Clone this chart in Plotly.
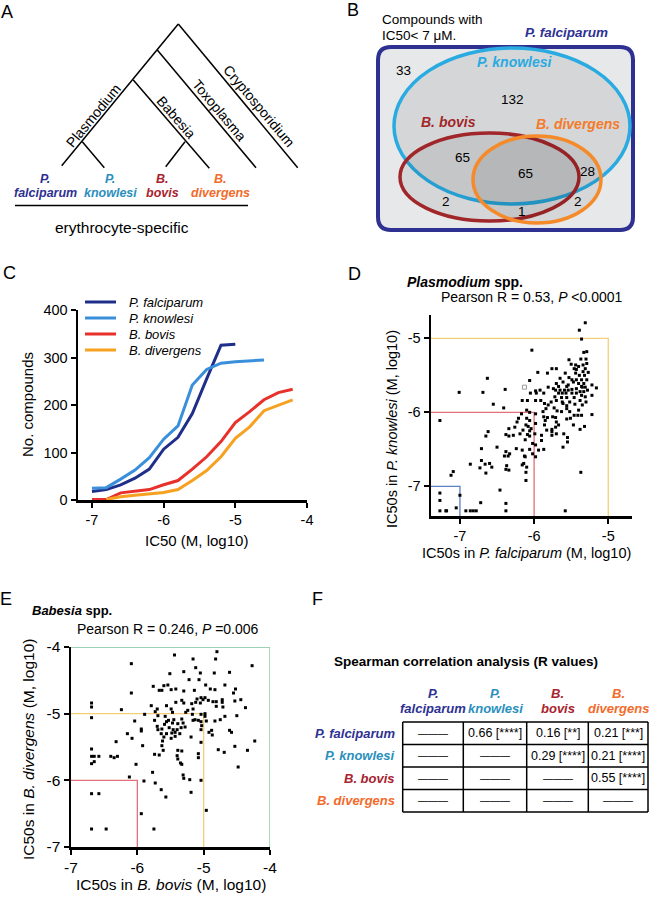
import plotly.graph_objects as go

W, H = 650, 901
FONT = "Arial, Liberation Sans, Helvetica, sans-serif"


def X(px):
    return px / W


def Y(py):
    return 1 - py / H


# ---------------- colours ----------------
C_PF = "#2E3192"
C_PK = "#2A8FBD"
C_PK_B = "#29ABE2"
C_BB = "#A8232F"
C_BD = "#F26B2A"

# ---------------- Panel C data ----------------
c_x_pf = [-7.0, -6.8, -6.6, -6.4, -6.2, -6.0, -5.8, -5.6, -5.4, -5.2, -5.0]
c_y_pf = [18, 22, 32, 46, 65, 107, 132, 182, 255, 326, 328]
c_x_pk = [-7.0, -6.8, -6.6, -6.4, -6.2, -6.0, -5.8, -5.6, -5.4, -5.2, -5.0, -4.8, -4.6]
c_y_pk = [25, 26, 44, 63, 89, 128, 156, 242, 275, 288, 291, 293, 295]
c_x_bb = [-7.0, -6.8, -6.6, -6.4, -6.2, -6.0, -5.8, -5.6, -5.4, -5.2, -5.0, -4.8, -4.6, -4.4, -4.2]
c_y_bb = [1, 1, 15, 19, 22, 32, 41, 65, 91, 123, 163, 186, 211, 226, 233]
c_x_bd = [-6.8, -6.6, -6.4, -6.2, -6.0, -5.8, -5.6, -5.4, -5.2, -5.0, -4.8, -4.6, -4.4, -4.2]
c_y_bd = [1, 7, 10, 13, 16, 22, 41, 62, 91, 130, 154, 188, 200, 211]
c_names = ["P. falciparum", "P. knowlesi", "B. bovis", "B. divergens"]
c_colors = ["#1F2E8A", "#3A8FDB", "#E8312A", "#F6A11F"]
c_ticks_x = [-7, -6, -5, -4]
c_ticks_y = [0, 100, 200, 300, 400]

# ---------------- Panel D data (log10 IC50) ----------------
d_pf = [-5.31, -5.39, -5.36, -6.03, -5.29, -5.33, -5.53, -5.37, -5.30, -5.29, -5.44, -5.50, -5.46, -5.40, -5.34,
        -5.43, -5.31, -5.70, -5.76, -5.95, -5.82, -5.58, -5.34, -5.27, -5.44, -5.39, -5.65, -5.32, -5.53, -5.49,
        -5.43, -5.36, -5.29, -6.63, -6.06, -5.61, -5.47, -5.40, -5.33, -5.70, -5.54, -5.36, -5.22, -5.67, -5.56,
        -5.74, -5.81, -5.71, -5.65, -5.59, -5.54, -5.49, -5.43, -5.35, -5.31, -5.16, -6.39, -7.01, -6.69, -5.98,
        -5.92, -5.38, -5.33, -5.28, -5.67, -5.62, -5.57, -5.49, -5.43, -5.36, -6.05, -5.97, -5.87, -5.72, -5.63,
        -5.56, -5.46, -5.31, -5.22, -6.16, -6.09, -5.98, -5.91, -5.86, -5.77, -5.70, -5.62, -5.52, -5.38, -5.30,
        -6.55, -5.81, -5.61, -5.56, -5.45, -5.35, -6.10, -6.41, -5.84, -5.73, -5.69, -5.56, -5.63, -5.52, -5.40,
        -6.06, -5.98, -5.88, -5.87, -5.75, -5.71, -5.46, -5.41, -5.36, -5.22, -6.17, -7.27, -6.21, -6.10, -6.06,
        -6.23, -5.98, -5.85, -5.82, -5.56, -5.51, -5.70, -5.67, -6.26, -6.11, -6.08, -6.04, -5.86, -5.76, -5.71,
        -5.47, -5.38, -5.32, -6.34, -6.15, -6.06, -5.83, -5.76, -5.60, -5.55, -6.62, -6.38, -6.34, -6.28, -6.19,
        -6.09, -5.99, -5.90, -5.76, -5.70, -6.65, -6.12, -6.06, -5.90, -5.55, -6.02, -5.98, -5.61, -6.71, -6.50,
        -6.24, -6.16, -6.06, -5.94, -5.87, -6.38, -6.33, -6.13, -6.02, -5.98, -6.12, -6.40, -6.35, -6.60, -6.71,
        -6.86, -6.66, -6.73, -6.57, -6.37, -6.16, -6.10, -6.14, -6.38, -6.34, -6.65, -6.11, -5.37, -7.09, -7.12,
        -6.11, -6.46, -7.27, -7.00, -7.27, -6.72, -6.38, -7.27, -7.19, -7.18, -7.05, -6.92, -6.86, -6.82, -6.78,
        -6.38, -5.58]
d_pk = [-4.79, -4.89, -5.01, -5.16, -5.18, -5.19, -5.29, -5.28, -5.28, -5.34, -5.36, -5.35, -5.41, -5.38, -5.36,
        -5.42, -5.41, -5.41, -5.41, -5.46, -5.47, -5.47, -5.45, -5.46, -5.47, -5.50, -5.54, -5.50, -5.53, -5.56,
        -5.56, -5.56, -5.56, -5.54, -5.57, -5.59, -5.59, -5.61, -5.61, -5.61, -5.63, -5.65, -5.63, -5.65, -5.65,
        -5.68, -5.66, -5.70, -5.70, -5.70, -5.70, -5.69, -5.68, -5.66, -5.66, -5.67, -5.69, -5.73, -5.73, -5.71,
        -5.70, -5.72, -5.72, -5.70, -5.74, -5.74, -5.74, -5.74, -5.74, -5.77, -5.74, -5.74, -5.74, -5.79, -5.80,
        -5.80, -5.80, -5.79, -5.77, -5.84, -5.84, -5.84, -5.84, -5.88, -5.86, -5.84, -5.86, -5.86, -5.84, -5.86,
        -5.89, -5.90, -5.88, -5.91, -5.89, -5.90, -5.97, -5.94, -5.95, -5.94, -5.98, -5.95, -5.99, -5.99, -5.97,
        -6.00, -6.02, -5.99, -6.06, -6.06, -6.07, -6.04, -6.04, -6.04, -6.03, -6.02, -6.11, -6.08, -6.08, -6.11,
        -6.13, -6.15, -6.11, -6.07, -6.09, -6.08, -6.13, -6.17, -6.20, -6.17, -6.19, -6.22, -6.17, -6.23, -6.20,
        -6.17, -6.23, -6.19, -6.22, -6.24, -6.25, -6.24, -6.26, -6.29, -6.34, -6.26, -6.30, -6.32, -6.31, -6.29,
        -6.30, -6.29, -6.31, -6.31, -6.29, -6.32, -6.37, -6.32, -6.38, -6.40, -6.42, -6.44, -6.47, -6.49, -6.47,
        -6.49, -6.51, -6.50, -6.51, -6.50, -6.53, -6.56, -6.59, -6.56, -6.60, -6.60, -6.59, -6.59, -6.69, -6.65,
        -6.70, -6.70, -6.75, -6.74, -6.72, -6.71, -6.74, -6.69, -6.77, -6.78, -6.82, -6.81, -6.81, -6.80, -6.85,
        -6.92, -7.05, -7.09, -7.12, -7.19, -7.22, -7.23, -7.33, -7.33, -7.33, -7.29, -7.33, -7.33, -7.33, -7.33,
        -7.33, -7.33]
d_flag_pf = [-6.13]
d_flag_pk = [-5.66]

# ---------------- Panel E data (log10 IC50) ----------------
e_bb = [-4.80, -5.44, -5.16, -4.82, -4.27, -6.09, -5.12, -5.51, -5.30, -5.05, -4.84, -4.61, -5.22, -5.07, -5.76,
        -5.60, -5.54, -5.67, -5.63, -5.49, -5.42, -4.97, -4.90, -4.68, -6.09, -5.30, -5.14, -4.83, -4.52, -4.55,
        -5.04, -4.98, -5.10, -4.93, -4.86, -4.81, -4.72, -4.72, -4.44, -4.53, -5.42, -5.33, -5.30, -5.18, -5.12,
        -5.05, -5.01, -6.69, -6.69, -5.79, -5.56, -5.70, -5.49, -5.16, -5.24, -4.81, -4.71, -4.37, -6.24, -6.69,
        -5.89, -5.73, -5.47, -5.27, -5.04, -5.17, -4.98, -5.69, -5.58, -4.98, -6.04, -5.74, -5.56, -5.53, -5.45,
        -5.33, -5.13, -5.16, -5.08, -5.04, -4.96, -4.83, -4.75, -4.68, -4.50, -5.70, -5.59, -5.47, -5.39, -5.31,
        -5.28, -5.03, -5.69, -5.63, -5.52, -5.46, -5.40, -5.34, -5.94, -5.04, -6.15, -5.94, -5.64, -5.56, -5.48,
        -5.43, -5.36, -4.88, -4.92, -4.87, -4.61, -4.58, -6.08, -5.60, -5.49, -5.43, -5.19, -6.32, -5.62, -5.04,
        -4.23, -5.92, -5.63, -5.61, -6.69, -4.78, -4.69, -4.53, -4.34, -5.39, -5.33, -5.67, -5.74, -6.69, -6.65,
        -6.58, -6.40, -6.35, -6.30, -5.40, -5.39, -5.08, -5.08, -6.65, -6.69, -5.35, -5.33, -6.02, -4.48, -6.12,
        -5.77, -5.31, -5.30, -5.21, -5.90, -5.73, -5.04, -6.69, -6.58, -5.64, -5.19, -5.57, -4.96, -5.94, -6.69,
        -6.47, -5.75]
e_bd = [-4.07, -4.12, -4.18, -4.18, -4.28, -4.25, -4.31, -4.40, -4.37, -4.39, -4.39, -4.38, -4.49, -4.49, -4.59,
        -4.58, -4.57, -4.65, -4.65, -4.64, -4.63, -4.57, -4.63, -4.57, -4.69, -4.66, -4.65, -4.64, -4.63, -4.69,
        -4.76, -4.76, -4.78, -4.80, -4.82, -4.82, -4.79, -4.83, -4.79, -4.81, -4.83, -4.80, -4.84, -4.85, -4.83,
        -4.84, -4.79, -4.84, -4.90, -4.88, -4.88, -4.93, -4.93, -4.93, -4.95, -4.89, -4.90, -4.91, -4.94, -5.06,
        -5.01, -4.97, -4.98, -4.98, -5.01, -5.01, -5.00, -5.03, -5.04, -5.04, -5.11, -5.10, -5.12, -5.10, -5.09,
        -5.08, -5.09, -5.10, -5.10, -5.12, -5.11, -5.11, -5.09, -5.04, -5.03, -5.19, -5.16, -5.14, -5.15, -5.14,
        -5.20, -5.18, -5.24, -5.23, -5.21, -5.24, -5.24, -5.21, -5.23, -5.24, -5.30, -5.26, -5.30, -5.30, -5.29,
        -5.28, -5.30, -5.25, -5.28, -5.32, -5.25, -5.28, -5.37, -5.35, -5.37, -5.34, -5.35, -5.42, -5.41, -5.43,
        -5.41, -5.48, -5.48, -5.55, -5.53, -5.54, -5.58, -5.49, -5.55, -5.55, -5.56, -5.62, -5.61, -5.64, -5.64,
        -5.64, -5.64, -5.66, -5.64, -5.63, -5.68, -5.60, -5.66, -5.72, -5.75, -5.74, -5.76, -5.76, -5.80, -5.95,
        -5.88, -5.92, -5.97, -5.99, -6.01, -6.04, -6.00, -6.20, -6.20, -6.14, -6.18, -6.25, -6.45, -6.50, -6.73,
        -6.73, -6.73]

# thresholds drawn as boxes
d_thresholds = [-7, -6, -5]
d_threshold_colors = ["#5B7FC4", "#E2707A", "#F3CF78"]
e_thresholds = [-6, -5, -4]
e_threshold_colors = ["#E2707A", "#F3CF78", "#7CC49A"]

# ---------------- Panel B (Venn) data ----------------
venn_counts = ["33", "132", "65", "65", "28", "2", "2", "1"]
venn_count_pos = [(403, 70), (512, 99), (462, 157), (525, 173), (587, 172), (446, 201), (578, 201), (522, 211)]

# ---------------- Panel F data ----------------
sp_species = ["P. falciparum", "P. knowlesi", "B. bovis", "B. divergens"]
sp_colors = [C_PF, C_PK, C_BB, C_BD]
sp_values = [
    [None, "0.66 [****]", "0.16 [**]", "0.21 [***]"],
    [None, None, "0.29 [****]", "0.21 [****]"],
    [None, None, None, "0.55 [****]"],
    [None, None, None, None],
]

fig = go.Figure()

# ---- Panel C traces ----
for xs, ys, nm, col in zip([c_x_pf, c_x_pk, c_x_bb, c_x_bd], [c_y_pf, c_y_pk, c_y_bb, c_y_bd], c_names, c_colors):
    fig.add_trace(go.Scatter(x=xs, y=ys, mode="lines", name=nm, line=dict(color=col, width=3),
                             xaxis="x", yaxis="y", showlegend=False))

# ---- Panel D ----
D_XR = [-7.39, -4.68]
D_YR = [-7.40, -4.685]
for t, col in zip(d_thresholds, d_threshold_colors):
    fig.add_trace(go.Scatter(x=[D_XR[0], t, t], y=[t, t, D_YR[0]], mode="lines",
                             line=dict(color=col, width=1.3), xaxis="x2", yaxis="y2", showlegend=False))
fig.add_trace(go.Scatter(x=d_pf, y=d_pk, mode="markers", xaxis="x2", yaxis="y2", showlegend=False,
                         marker=dict(symbol="square", size=3, color="black", line=dict(width=0))))
fig.add_trace(go.Scatter(x=d_flag_pf, y=d_flag_pk, mode="markers", xaxis="x2", yaxis="y2", showlegend=False,
                         marker=dict(symbol="square-open", size=4, color="#9A9A9A", line=dict(width=1))))

# ---- Panel E ----
E_R = [-7, -4]
for t, col in zip(e_thresholds, e_threshold_colors):
    fig.add_trace(go.Scatter(x=[E_R[0], t, t], y=[t, t, E_R[0]], mode="lines",
                             line=dict(color=col, width=1.3), xaxis="x3", yaxis="y3", showlegend=False))
fig.add_trace(go.Scatter(x=e_bb, y=e_bd, mode="markers", xaxis="x3", yaxis="y3", showlegend=False,
                         marker=dict(symbol="square", size=3, color="black", line=dict(width=0))))


def axis(domain, rng, tickvals, anchor, size):
    return dict(domain=domain, range=rng, tickvals=tickvals, ticktext=[str(v) for v in tickvals],
                anchor=anchor, showline=True, linecolor="black", linewidth=2.5, ticks="outside",
                ticklen=5, tickwidth=2, tickcolor="black", showgrid=False, zeroline=False,
                tickfont=dict(family=FONT, size=size, color="black"), fixedrange=True, automargin=False)


layout = dict(
    width=W, height=H, margin=dict(l=0, r=0, t=0, b=0, pad=0, autoexpand=False), paper_bgcolor="white",
    plot_bgcolor="rgba(0,0,0,0)", showlegend=False, font=dict(family=FONT, color="black"),
    xaxis=axis([X(78), X(307)], [-7.195, -4.0], c_ticks_x, "y", 14.5),
    yaxis=axis([Y(500), Y(310)], [0, 400], c_ticks_y, "x", 14.5),
    xaxis2=axis([X(431), X(632)], D_XR, [-7, -6, -5], "y2", 14.5),
    yaxis2=axis([Y(516), Y(315)], D_YR, [-7, -6, -5], "x2", 14.5),
    xaxis3=axis([X(71), X(270)], E_R, [-7, -6, -5, -4], "y3", 15.5),
    yaxis3=axis([Y(847), Y(647)], E_R, [-7, -6, -5, -4], "x3", 15.5),
)
fig.update_layout(**layout)

shapes = []
ann = []


def text(t, x, y, size, color="black", xa="center", ya="middle", angle=0):
    ann.append(dict(text=t, x=X(x), y=Y(y), xref="paper", yref="paper", showarrow=False,
                    xanchor=xa, yanchor=ya, textangle=angle,
                    font=dict(family=FONT, size=size, color=color)))


def pline(x0, y0, x1, y1, color="black", width=1.5):
    shapes.append(dict(type="line", xref="paper", yref="paper", x0=X(x0), y0=Y(y0), x1=X(x1), y1=Y(y1),
                       line=dict(color=color, width=width)))


# panel letters
for L, (lx, ly) in zip("ABCDEF", [(7, 12), (353, 10), (9, 273), (354, 274), (6, 599), (317, 599)]):
    text(L, lx, ly, 18)

# ---------------- Panel A: tree ----------------
pline(178.3, 24, 61.7, 165.7)
pline(178.3, 24, 297.7, 167.7)
pline(157.3, 50, 256, 167.7)
pline(133.3, 80, 209.3, 168.3)
pline(185, 141.7, 165.7, 166.7)
pline(82.3, 141.7, 104.3, 167.7)
text("Plasmodium", 93, 116, 14, angle=-50.5)
text("Babesia", 176, 117, 14, angle=49)
text("Toxoplasma", 219, 110, 14, angle=50)
text("Cryptosporidium", 259, 106, 14, angle=50)
for (g, s), col, cx in zip([("P.", "falciparum"), ("P.", "knowlesi"), ("B.", "bovis"), ("B.", "divergens")],
                           sp_colors, [45, 110, 163, 220]):
    text(f"<b><i>{g}</i></b>", cx, 179, 12.5, col)
    text(f"<b><i>{s}</i></b>", cx, 193, 12.5, col)
pline(15, 205.5, 248, 205.5, width=1.5)
text("erythrocyte-specific", 122, 227, 15.5)

# ---------------- Panel B: Venn ----------------
x0, y0, x1, y1, r = 378, 47, 633, 230, 13
path = (f"M {X(x0 + r)},{Y(y0)} L {X(x1 - r)},{Y(y0)} Q {X(x1)},{Y(y0)} {X(x1)},{Y(y0 + r)} "
        f"L {X(x1)},{Y(y1 - r)} Q {X(x1)},{Y(y1)} {X(x1 - r)},{Y(y1)} L {X(x0 + r)},{Y(y1)} "
        f"Q {X(x0)},{Y(y1)} {X(x0)},{Y(y1 - r)} L {X(x0)},{Y(y0 + r)} Q {X(x0)},{Y(y0)} {X(x0 + r)},{Y(y0)} Z")
shapes.append(dict(type="path", path=path, xref="paper", yref="paper", fillcolor="#E7E8E9",
                   line=dict(color=C_PF, width=4), layer="below"))
for (ex0, ey0, ex1, ey1), col in zip([(394, 48, 630, 204), (400, 133, 579, 221), (473, 136, 601, 223)],
                                     [C_PK_B, "#A1262A", "#F58A2A"]):
    shapes.append(dict(type="circle", xref="paper", yref="paper", x0=X(ex0), y0=Y(ey1), x1=X(ex1), y1=Y(ey0),
                       fillcolor="rgba(0,0,0,0.075)", line=dict(color=col, width=3.5), layer="below"))
text("Compounds with", 380, 19, 13.5, xa="left")
text("IC50< 7 μM.", 380, 35, 13.5, xa="left")
text("<b><i>P. falciparum</i></b>", 566, 33, 13.5, C_PF)
text("<b><i>P. knowlesi</i></b>", 515, 62, 14, C_PK_B)
text("<b><i>B. bovis</i></b>", 448, 122, 14, "#A1262A")
text("<b><i>B. divergens</i></b>", 578, 124, 14, "#F47B2A")
for lab, (vx, vy) in zip(venn_counts, venn_count_pos):
    text(lab, vx, vy, 13.5)

# ---------------- Panel C annotations ----------------
for i, (nm, col) in enumerate(zip(c_names, c_colors)):
    yy = 302 + i * 16
    pline(85, yy, 116, yy, color=col, width=3)
    text(f"<i>{nm}</i>", 127, yy, 13, xa="left")
text("No. compounds", 27, 405, 15, angle=-90)
text("IC50 (M, log10)", 196, 540, 15)

# ---------------- Panel D annotations ----------------
text("<b><i>Plasmodium</i> spp.</b>", 405, 282, 14, xa="left")
text("Pearson R = 0.53, <i>P</i> <0.0001", 532, 297, 14)
text("IC50s in <i>P. falciparum</i> (M, log10)", 526, 553, 14.5)
text("IC50s in <i>P. knowlesi</i> (M, log10)", 392, 429, 14.5, angle=-90)

# ---------------- Panel E annotations ----------------
text("<b><i>Babesia</i> spp.</b>", 30, 610, 13, xa="left")
text("Pearson R = 0.246, <i>P</i> =0.006", 168, 629, 14)
text("IC50s in <i>B. bovis</i> (M, log10)", 171, 884, 15.5)
text("IC50s in <i>B. divergens</i> (M, log10)", 28, 750, 15.5, angle=-90)

# ---------------- Panel F: table ----------------
text("<b>Spearman correlation analysis (R values)</b>", 466, 661, 13.5)
col_edges = [402.7, 463.3, 526.7, 588.3, 648]
row_edges = [722, 744.5, 767, 789.5, 812]
col_c = [(col_edges[i] + col_edges[i + 1]) / 2 for i in range(4)]
row_c = [(row_edges[i] + row_edges[i + 1]) / 2 for i in range(4)]
for nm, col, cx in zip(sp_species, sp_colors, col_c):
    g, s = nm.split(" ")
    text(f"<b><i>{g}</i></b>", cx, 693, 13, col)
    text(f"<b><i>{s}</i></b>", cx, 708, 13, col)
for nm, col, cy in zip(sp_species, sp_colors, row_c):
    text(f"<b><i>{nm}</i></b>", 397, cy, 13, col, xa="right")
for xe in col_edges:
    pline(xe, row_edges[0], xe, row_edges[-1], width=1.5)
for ye in row_edges:
    pline(col_edges[0], ye, col_edges[-1], ye, width=1.5)
for ri, row in enumerate(sp_values):
    for ci, v in enumerate(row):
        text(v if v is not None else "———", col_c[ci], row_c[ri], 12.5 if v is not None else 10)

fig.update_layout(shapes=shapes, annotations=ann)
fig.write_html("out.html", config={"displayModeBar": False, "staticPlot": True},
               post_script="document.body.style.margin='0px';document.body.style.overflow='hidden';")
